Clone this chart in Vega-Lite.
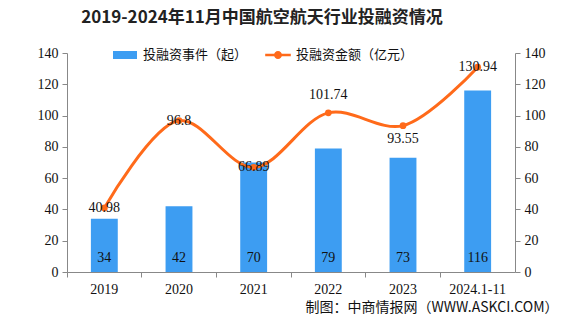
{
  "$schema": "https://vega.github.io/schema/vega-lite/v6.json",
  "width": 448,
  "height": 219,
  "autosize": {"type": "none"},
  "padding": {"left": 67, "top": 53, "right": 60, "bottom": 54},
  "background": "white",
  "title": {
    "text": "2019-2024年11月中国航空航天行业投融资情况",
    "font": "Noto Sans CJK SC",
    "fontSize": 17,
    "fontWeight": "bold",
    "color": "#222222",
    "anchor": "middle",
    "dx": -29,
    "offset": 19
  },
  "config": {
    "view": {"stroke": null},
    "font": "Noto Sans CJK SC"
  },
  "data": {
    "values": [
      {"year": "2019", "events": 34, "amount": 40.98, "pos": "c"},
      {"year": "2020", "events": 42, "amount": 96.8, "pos": "c"},
      {"year": "2021", "events": 70, "amount": 66.89, "pos": "c"},
      {"year": "2022", "events": 79, "amount": 101.74, "pos": "a"},
      {"year": "2023", "events": 73, "amount": 93.55, "pos": "b"},
      {"year": "2024.1-11", "events": 116, "amount": 130.94, "pos": "c"}
    ]
  },
  "layer": [
    {
      "encoding": {
        "x": {
          "field": "year",
          "type": "nominal",
          "sort": null,
          "scale": {"paddingInner": 0, "paddingOuter": 0},
          "axis": {
            "title": "制图：中商情报网（WWW.ASKCI.COM）",
            "titleX": 491,
            "titleY": 35,
            "titleAlign": "right",
            "titleBaseline": "middle",
            "titleFont": "Noto Sans CJK SC",
            "titleFontSize": 14,
            "titleFontWeight": "normal",
            "titleColor": "#111111",
            "labelAngle": 0,
            "labelFont": "Liberation Serif",
            "labelFontSize": 14,
            "labelColor": "#111111",
            "labelPadding": 5,
            "domainColor": "#888888",
            "tickColor": "#888888",
            "tickSize": 5,
            "bandPosition": 0
          }
        },
        "y": {
          "field": "events",
          "type": "quantitative",
          "scale": {"domain": [0, 140]},
          "axis": {
            "title": null,
            "values": [0, 20, 40, 60, 80, 100, 120, 140],
            "grid": false,
            "labelFont": "Liberation Serif",
            "labelFontSize": 14,
            "labelColor": "#111111",
            "domainColor": "#888888",
            "tickColor": "#888888",
            "tickSize": 5,
            "labelPadding": 4
          }
        }
      },
      "layer": [
        {
          "mark": {"type": "bar", "width": {"band": 0.36}},
          "encoding": {
            "color": {
              "datum": "投融资事件（起）",
              "scale": {"range": ["#3D9DF2"]},
              "legend": {
                "title": null,
                "orient": "none",
                "legendX": 50,
                "legendY": -6,
                "symbolType": "M-1.5,-0.5H1.5V0.5H-1.5Z",
                "symbolSize": 256,
                "symbolStrokeWidth": 0,
                "labelFont": "Noto Sans CJK SC",
                "labelFontSize": 13,
                "labelColor": "#111111",
                "labelOffset": 10
              }
            }
          }
        },
        {
          "mark": {"type": "text", "baseline": "middle", "dy": -14, "font": "Liberation Serif", "fontSize": 14, "color": "#111111"},
          "encoding": {
            "y": {"datum": 0},
            "text": {"field": "events", "type": "quantitative"}
          }
        }
      ]
    },
    {
      "encoding": {
        "x": {"field": "year", "type": "nominal", "sort": null},
        "y": {
          "field": "amount",
          "type": "quantitative",
          "scale": {"domain": [0, 140]},
          "axis": {
            "title": null,
            "orient": "right",
            "values": [0, 20, 40, 60, 80, 100, 120, 140],
            "grid": false,
            "labelFont": "Liberation Serif",
            "labelFontSize": 14,
            "labelColor": "#111111",
            "domainColor": "#888888",
            "tickColor": "#888888",
            "tickSize": 5,
            "labelPadding": 4
          }
        }
      },
      "layer": [
        {
          "mark": {"type": "line", "interpolate": "catmull-rom", "strokeWidth": 3},
          "encoding": {
            "stroke": {
              "datum": "投融资金额（亿元）",
              "scale": {"range": ["#FF6A1A"]},
              "legend": {
                "title": null,
                "orient": "none",
                "legendX": 203,
                "legendY": -6,
                "symbolType": "M-1.6,-0.15H1.6V0.15H-1.6Z M0.5,0A0.5,0.5 0 1,1 -0.5,0A0.5,0.5 0 1,1 0.5,0Z",
                "symbolSize": 256,
                "symbolFillColor": "#FF6A1A",
                "symbolStrokeWidth": 0,
                "labelFont": "Noto Sans CJK SC",
                "labelFontSize": 13,
                "labelColor": "#111111",
                "labelOffset": 10
              }
            }
          }
        },
        {
          "mark": {"type": "point", "filled": true, "size": 45, "color": "#FF6A1A", "opacity": 1}
        },
        {
          "transform": [{"filter": "datum.pos == 'c'"}],
          "mark": {"type": "text", "baseline": "middle", "font": "Liberation Serif", "fontSize": 14, "color": "#111111"},
          "encoding": {"text": {"field": "amount", "type": "quantitative", "format": ".4~f"}}
        },
        {
          "transform": [{"filter": "datum.pos == 'a'"}],
          "mark": {"type": "text", "baseline": "middle", "dy": -18, "font": "Liberation Serif", "fontSize": 14, "color": "#111111"},
          "encoding": {"text": {"field": "amount", "type": "quantitative", "format": ".4~f"}}
        },
        {
          "transform": [{"filter": "datum.pos == 'b'"}],
          "mark": {"type": "text", "baseline": "middle", "dy": 13, "font": "Liberation Serif", "fontSize": 14, "color": "#111111"},
          "encoding": {"text": {"field": "amount", "type": "quantitative", "format": ".4~f"}}
        }
      ]
    }
  ],
  "resolve": {"scale": {"y": "independent"}}
}
